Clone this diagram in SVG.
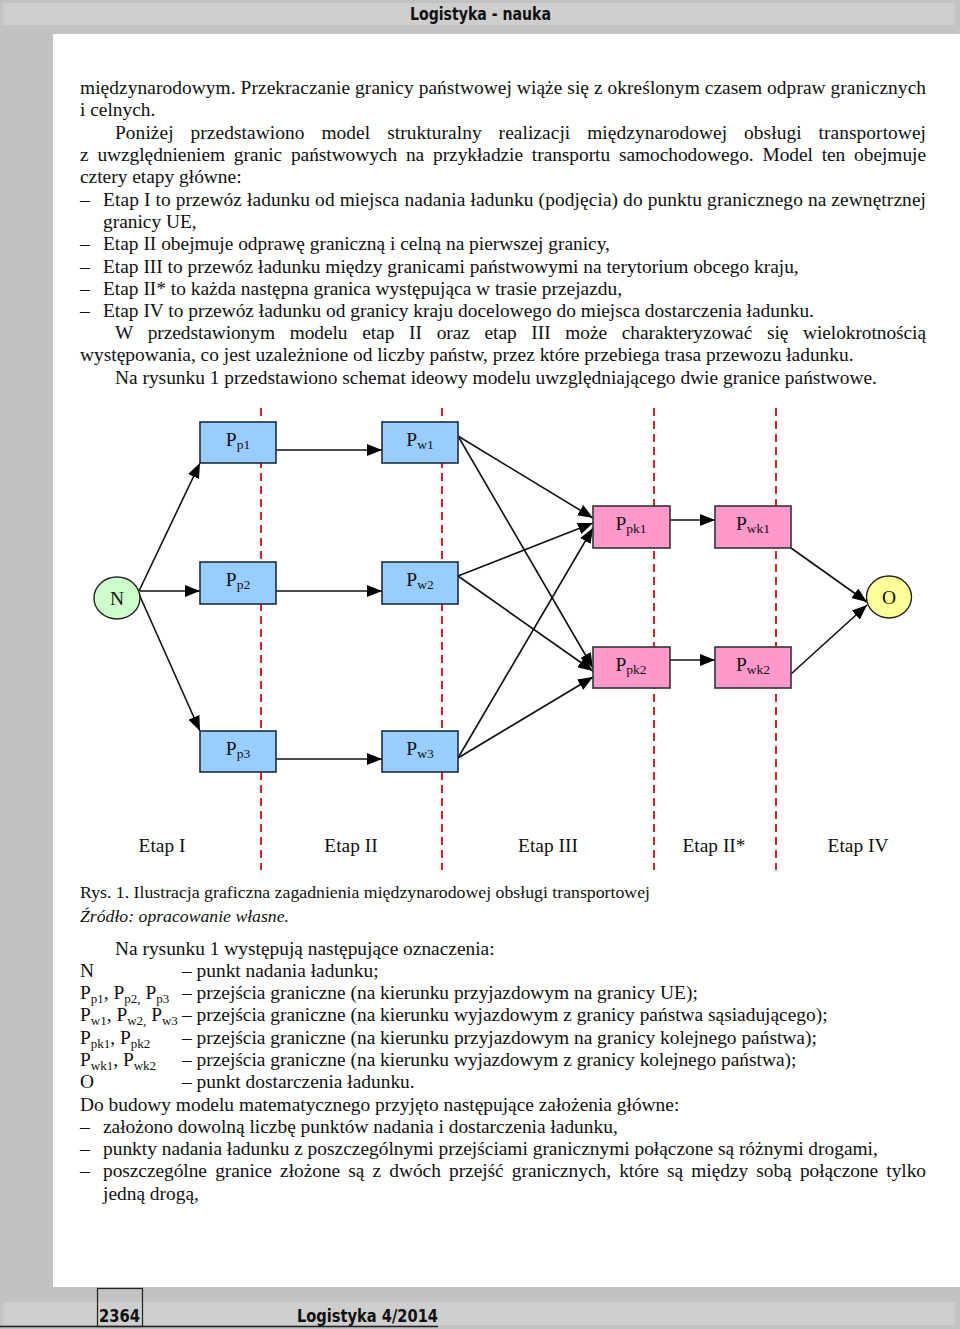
<svg xmlns="http://www.w3.org/2000/svg" width="960" height="1329" viewBox="0 0 960 1329">
<defs>
<style>
.bg{fill:#c2c2c2}
.band{fill:#cecece}
.hdr{font-family:'DejaVu Sans Condensed','Liberation Sans Narrow','DejaVu Sans',sans-serif;font-weight:bold;font-stretch:condensed;font-size:18px;fill:#111}
.t{font-family:'Liberation Serif','Times New Roman',serif;font-size:19.4px;fill:#111}
.cap{font-family:'Liberation Serif','Times New Roman',serif;font-size:17px;fill:#111}
.it{font-style:italic}
.sub{font-size:13px}
.lbl{font-family:'Liberation Serif','Times New Roman',serif;font-size:19.5px;fill:#111}
.lsub{font-size:13.5px}
.blue{fill:#99ccff;stroke:#1c2e40;stroke-width:1.6}
.pink{fill:#ff99cc;stroke:#333333;stroke-width:1.6}
.cn{fill:#ccffcc;stroke:#222;stroke-width:1.4}
.co{fill:#ffff99;stroke:#222;stroke-width:1.4}
.dash{stroke:#e0202c;stroke-width:2;stroke-dasharray:8 5;fill:none}
.e{stroke:#111;stroke-width:1.6;fill:none;marker-end:url(#ah)}
</style>
<marker id="ah" markerWidth="16" markerHeight="12" refX="15" refY="6" orient="auto" markerUnits="userSpaceOnUse">
<path d="M0,0 L15,6 L0,12 z" fill="#000"/>
</marker>
</defs>

<!-- page background -->
<rect class="bg" x="0" y="0" width="960" height="1329"/>
<rect class="band" x="3" y="3" width="952" height="22"/>
<rect x="53" y="34" width="907" height="1253" fill="#ffffff"/>
<rect class="band" x="3" y="1302" width="952" height="23"/>
<line x1="0" y1="1326.5" x2="438" y2="1326.5" stroke="#222" stroke-width="1.5"/>
<rect x="97.5" y="1288.5" width="45" height="38" fill="none" stroke="#222" stroke-width="1.2"/>
<text class="hdr" x="410" y="20" textLength="141" lengthAdjust="spacingAndGlyphs">Logistyka - nauka</text>
<text class="hdr" x="99" y="1322" textLength="41" lengthAdjust="spacingAndGlyphs">2364</text>
<text class="hdr" x="297" y="1322" textLength="141" lengthAdjust="spacingAndGlyphs">Logistyka 4/2014</text>

<!-- body text -->
<g id="body-text">
<text class="t" x="80" y="94" textLength="846">międzynarodowym. Przekraczanie granicy państwowej wiąże się z określonym czasem odpraw granicznych</text>
<text class="t" x="80" y="116">i celnych.</text>
<text class="t" x="115" y="139" word-spacing="12" textLength="811">Poniżej przedstawiono model strukturalny realizacji międzynarodowej obsługi transportowej</text>
<text class="t" x="80" y="161" word-spacing="4" textLength="846">z uwzględnieniem granic państwowych na przykładzie transportu samochodowego. Model ten obejmuje</text>
<text class="t" x="80" y="183">cztery etapy główne:</text>
<text class="t" x="80" y="206">–</text>
<text class="t" x="103" y="206" textLength="823">Etap I to przewóz ładunku od miejsca nadania ładunku (podjęcia) do punktu granicznego na zewnętrznej</text>
<text class="t" x="103" y="228">granicy UE,</text>
<text class="t" x="80" y="250">–</text>
<text class="t" x="103" y="250">Etap II obejmuje odprawę graniczną i celną na pierwszej granicy,</text>
<text class="t" x="80" y="273">–</text>
<text class="t" x="103" y="273">Etap III to przewóz ładunku między granicami państwowymi na terytorium obcego kraju,</text>
<text class="t" x="80" y="295">–</text>
<text class="t" x="103" y="295">Etap II* to każda następna granica występująca w trasie przejazdu,</text>
<text class="t" x="80" y="317">–</text>
<text class="t" x="103" y="317">Etap IV to przewóz ładunku od granicy kraju docelowego do miejsca dostarczenia ładunku.</text>
<text class="t" x="115" y="339" word-spacing="10" textLength="811">W przedstawionym modelu etap II oraz etap III może charakteryzować się wielokrotnością</text>
<text class="t" x="80" y="361">występowania, co jest uzależnione od liczby państw, przez które przebiega trasa przewozu ładunku.</text>
<text class="t" x="115" y="384">Na rysunku 1 przedstawiono schemat ideowy modelu uwzględniającego dwie granice państwowe.</text>
</g>

<!-- stage separators -->
<g id="separators">
<line class="dash" x1="261" y1="408" x2="261" y2="870"/>
<line class="dash" x1="442" y1="408" x2="442" y2="870"/>
<line class="dash" x1="654" y1="408" x2="654" y2="870"/>
<line class="dash" x1="776" y1="408" x2="776" y2="870"/>
</g>

<!-- connectors -->
<g id="connectors">
<path class="e" d="M139,591 L200,463"/>
<path class="e" d="M140,591 L200,591"/>
<path class="e" d="M139,594 L200,731"/>
<path class="e" d="M276,450 L382,450"/>
<path class="e" d="M276,591 L382,591"/>
<path class="e" d="M276,759 L382,759"/>
<path class="e" d="M458,436 L593,518"/>
<path class="e" d="M458,436 L593,668"/>
<path class="e" d="M458,576 L593,523"/>
<path class="e" d="M458,576 L593,671"/>
<path class="e" d="M458,758 L593,528"/>
<path class="e" d="M458,758 L593,677"/>
<path class="e" d="M670,520 L715,520"/>
<path class="e" d="M670,660 L715,660"/>
<path class="e" d="M791,548 L867,602"/>
<path class="e" d="M791,674 L867,605"/>
</g>

<!-- nodes -->
<g id="N"><ellipse class="cn" cx="117" cy="598" rx="23" ry="21"/><text class="lbl" x="117" y="605" text-anchor="middle">N</text></g>
<g id="Pp1"><rect class="blue" x="200" y="422" width="76" height="41"/><text class="lbl" x="238" y="446" text-anchor="middle">P<tspan class="lsub" dy="3">p1</tspan></text></g>
<g id="Pp2"><rect class="blue" x="200" y="562" width="76" height="42"/><text class="lbl" x="238" y="586" text-anchor="middle">P<tspan class="lsub" dy="3">p2</tspan></text></g>
<g id="Pp3"><rect class="blue" x="200" y="731" width="76" height="41"/><text class="lbl" x="238" y="755" text-anchor="middle">P<tspan class="lsub" dy="3">p3</tspan></text></g>
<g id="Pw1"><rect class="blue" x="382" y="422" width="76" height="41"/><text class="lbl" x="420" y="446" text-anchor="middle">P<tspan class="lsub" dy="3">w1</tspan></text></g>
<g id="Pw2"><rect class="blue" x="382" y="562" width="76" height="42"/><text class="lbl" x="420" y="586" text-anchor="middle">P<tspan class="lsub" dy="3">w2</tspan></text></g>
<g id="Pw3"><rect class="blue" x="382" y="731" width="76" height="41"/><text class="lbl" x="420" y="755" text-anchor="middle">P<tspan class="lsub" dy="3">w3</tspan></text></g>
<g id="Ppk1"><rect class="pink" x="593" y="506" width="77" height="42"/><text class="lbl" x="631" y="530" text-anchor="middle">P<tspan class="lsub" dy="3">pk1</tspan></text></g>
<g id="Ppk2"><rect class="pink" x="593" y="647" width="77" height="41"/><text class="lbl" x="631" y="671" text-anchor="middle">P<tspan class="lsub" dy="3">pk2</tspan></text></g>
<g id="Pwk1"><rect class="pink" x="715" y="506" width="76" height="42"/><text class="lbl" x="753" y="530" text-anchor="middle">P<tspan class="lsub" dy="3">wk1</tspan></text></g>
<g id="Pwk2"><rect class="pink" x="715" y="647" width="76" height="41"/><text class="lbl" x="753" y="671" text-anchor="middle">P<tspan class="lsub" dy="3">wk2</tspan></text></g>
<g id="O"><ellipse class="co" cx="889" cy="597" rx="22.5" ry="21"/><text class="lbl" x="889" y="604" text-anchor="middle">O</text></g>

<!-- stage labels -->
<g id="stages">
<text class="t" x="162" y="852" text-anchor="middle">Etap I</text>
<text class="t" x="351" y="852" text-anchor="middle">Etap II</text>
<text class="t" x="548" y="852" text-anchor="middle">Etap III</text>
<text class="t" x="714" y="852" text-anchor="middle">Etap II*</text>
<text class="t" x="858" y="852" text-anchor="middle">Etap IV</text>
</g>

<!-- caption -->
<text class="cap" x="80" y="898" textLength="570" lengthAdjust="spacingAndGlyphs">Rys. 1. Ilustracja graficzna zagadnienia międzynarodowej obsługi transportowej</text>
<text class="cap it" x="80" y="922" textLength="209" lengthAdjust="spacingAndGlyphs">Źródło: opracowanie własne.</text>

<!-- legend -->
<g id="legend">
<text class="t" x="115" y="955">Na rysunku 1 występują następujące oznaczenia:</text>
<text class="t" x="80" y="977">N</text>
<text class="t" x="182" y="977">– punkt nadania ładunku;</text>
<text class="t" x="80" y="999">P<tspan class="sub" dy="4">p1</tspan><tspan dy="-4">, P</tspan><tspan class="sub" dy="4">p2,</tspan><tspan dy="-4"> P</tspan><tspan class="sub" dy="4">p3</tspan></text>
<text class="t" x="182" y="999">– przejścia graniczne (na kierunku przyjazdowym na granicy UE);</text>
<text class="t" x="80" y="1021">P<tspan class="sub" dy="4">w1</tspan><tspan dy="-4">, P</tspan><tspan class="sub" dy="4">w2,</tspan><tspan dy="-4"> P</tspan><tspan class="sub" dy="4">w3</tspan></text>
<text class="t" x="182" y="1021">– przejścia graniczne (na kierunku wyjazdowym z granicy państwa sąsiadującego);</text>
<text class="t" x="80" y="1044">P<tspan class="sub" dy="4">pk1</tspan><tspan dy="-4">, P</tspan><tspan class="sub" dy="4">pk2</tspan></text>
<text class="t" x="182" y="1044">– przejścia graniczne (na kierunku przyjazdowym na granicy kolejnego państwa);</text>
<text class="t" x="80" y="1066">P<tspan class="sub" dy="4">wk1</tspan><tspan dy="-4">, P</tspan><tspan class="sub" dy="4">wk2</tspan></text>
<text class="t" x="182" y="1066">– przejścia graniczne (na kierunku wyjazdowym z granicy kolejnego państwa);</text>
<text class="t" x="80" y="1088">O</text>
<text class="t" x="182" y="1088">– punkt dostarczenia ładunku.</text>
<text class="t" x="80" y="1111">Do budowy modelu matematycznego przyjęto następujące założenia główne:</text>
<text class="t" x="80" y="1133">–</text>
<text class="t" x="103" y="1133">założono dowolną liczbę punktów nadania i dostarczenia ładunku,</text>
<text class="t" x="80" y="1155">–</text>
<text class="t" x="103" y="1155">punkty nadania ładunku z poszczególnymi przejściami granicznymi połączone są różnymi drogami,</text>
<text class="t" x="80" y="1177">–</text>
<text class="t" x="103" y="1177" word-spacing="3.4" textLength="823">poszczególne granice złożone są z dwóch przejść granicznych, które są między sobą połączone tylko</text>
<text class="t" x="103" y="1200">jedną drogą,</text>
</g>
</svg>
